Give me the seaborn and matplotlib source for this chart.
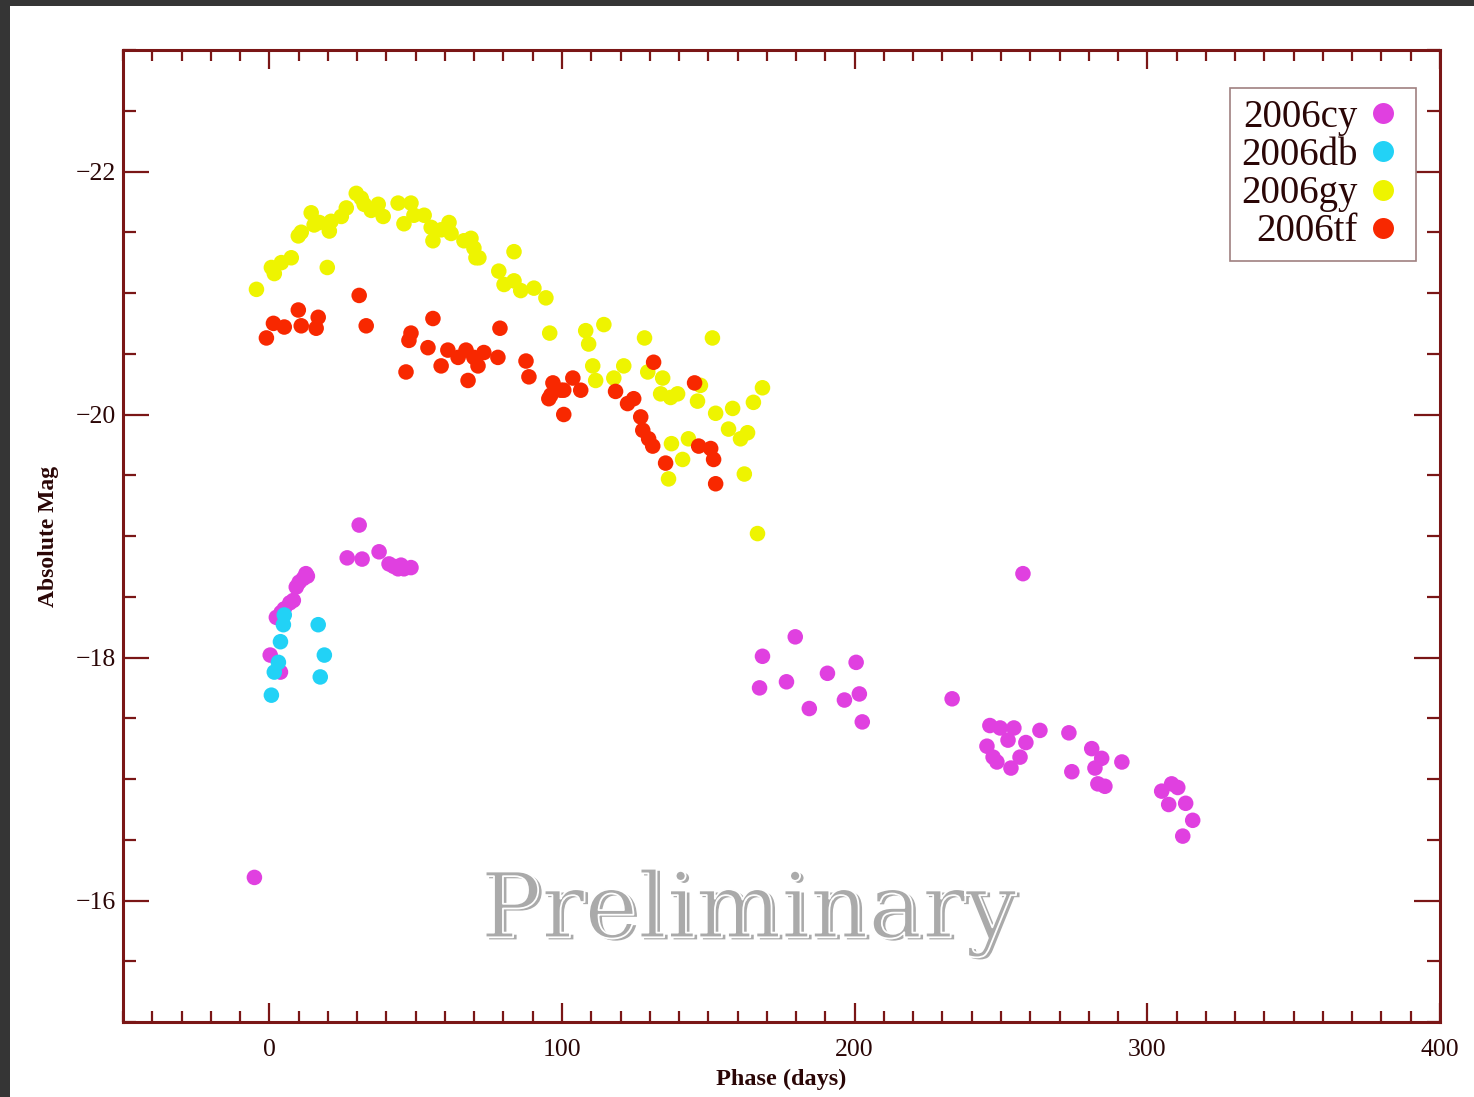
import numpy as np
import pandas as pd
import matplotlib
matplotlib.use("Agg")
import matplotlib.pyplot as plt
import matplotlib.patheffects as pe
from matplotlib.patches import Rectangle
from matplotlib.ticker import MultipleLocator, FuncFormatter
import seaborn as sns

# Light curves: phase (days) and absolute magnitude per supernova
cy_phase = [-5.1, 0.3, 3.8, 2.4, 4.0, 5.1, 7.0, 8.2, 9.2, 10.2, 11.6, 12.5, 13.0,
            26.6, 30.7, 31.7, 37.5, 40.9, 42.5, 44.0, 45.0, 46.0, 48.4,
            167.5, 168.5, 176.7, 179.7, 184.5, 190.7, 196.5, 200.5, 201.6, 202.6,
            233.3, 246.2, 249.7, 254.4, 252.4, 258.5, 263.3, 245.2, 247.3, 248.6,
            253.4, 256.5, 257.5, 273.2, 274.2, 281.0, 284.4, 282.1, 291.3, 283.1,
            285.5, 304.9, 308.3, 310.4, 307.3, 313.1, 315.5, 312.1]
cy_mag = [-16.19, -18.02, -17.88, -18.33, -18.37, -18.40, -18.45, -18.47, -18.58, -18.62, -18.65, -18.69, -18.67,
          -18.82, -19.09, -18.81, -18.87, -18.77, -18.75, -18.73, -18.76, -18.73, -18.74,
          -17.75, -18.01, -17.80, -18.17, -17.58, -17.87, -17.65, -17.96, -17.70, -17.47,
          -17.66, -17.44, -17.42, -17.42, -17.32, -17.30, -17.40, -17.27, -17.18, -17.14,
          -17.09, -17.18, -18.69, -17.38, -17.06, -17.25, -17.17, -17.09, -17.14, -16.96,
          -16.94, -16.90, -16.96, -16.93, -16.79, -16.80, -16.66, -16.53]

db_phase = [0.7, 1.7, 3.1, 3.8, 4.8, 5.1, 16.7, 18.8, 17.4]
db_mag = [-17.69, -17.88, -17.96, -18.13, -18.27, -18.35, -18.27, -18.02, -17.84]

gy_phase = [-4.4, 1.7, 0.7, 4.1, 7.5, 9.9, 10.9, 14.3, 15.3, 17.1, 20.5, 21.1, 19.8,
            24.6, 26.3, 29.7, 31.4, 32.4, 34.8, 37.2, 38.9, 44.0, 46.0, 48.4, 49.4,
            52.9, 55.3, 55.9, 58.7, 61.4, 62.1, 66.5, 68.9, 69.9, 70.6, 71.6, 83.6,
            78.4, 80.2, 83.6, 85.9, 90.4, 94.5, 95.8, 108.1, 109.1, 114.3, 128.2,
            151.4, 110.5, 111.5, 117.7, 121.1, 129.3, 134.4, 133.7, 139.5, 137.1,
            147.3, 146.3, 152.5, 158.3, 165.4, 168.5, 156.9, 163.4, 161.0, 143.2,
            137.4, 141.2, 136.4, 162.3, 166.8]
gy_mag = [-21.03, -21.16, -21.21, -21.25, -21.29, -21.47, -21.50, -21.66, -21.56, -21.58, -21.51, -21.59, -21.21,
          -21.63, -21.70, -21.82, -21.78, -21.73, -21.68, -21.73, -21.63, -21.74, -21.57, -21.74, -21.64,
          -21.64, -21.54, -21.43, -21.52, -21.58, -21.49, -21.43, -21.45, -21.37, -21.29, -21.29, -21.34,
          -21.18, -21.07, -21.10, -21.02, -21.04, -20.96, -20.67, -20.69, -20.58, -20.74, -20.63,
          -20.63, -20.40, -20.28, -20.30, -20.40, -20.35, -20.30, -20.17, -20.17, -20.14,
          -20.24, -20.11, -20.01, -20.05, -20.10, -20.22, -19.88, -19.85, -19.80, -19.80,
          -19.76, -19.63, -19.47, -19.51, -19.02]

tf_phase = [-1.0, 1.4, 5.1, 9.9, 10.9, 16.7, 16.0, 30.7, 33.1, 48.4, 47.7, 55.9, 54.2,
            46.7, 61.0, 58.7, 64.5, 67.2, 67.9, 69.9, 73.3, 71.3, 78.1, 78.8, 87.7,
            88.7, 96.9, 99.6, 95.5, 96.2, 100.6, 103.7, 106.4, 100.6, 118.3, 122.4,
            124.5, 126.9, 127.6, 129.6, 131.0, 131.3, 135.4, 145.3, 146.7, 150.8,
            151.8, 152.5]
tf_mag = [-20.63, -20.75, -20.72, -20.86, -20.73, -20.80, -20.71, -20.98, -20.73, -20.67, -20.61, -20.79, -20.55,
          -20.35, -20.53, -20.40, -20.47, -20.53, -20.28, -20.47, -20.51, -20.40, -20.47, -20.71, -20.44,
          -20.31, -20.26, -20.20, -20.13, -20.16, -20.20, -20.30, -20.20, -20.00, -20.19, -20.09,
          -20.13, -19.98, -19.87, -19.80, -19.74, -20.43, -19.60, -20.26, -19.74, -19.72,
          -19.63, -19.43]

names = ["2006cy", "2006db", "2006gy", "2006tf"]
colors = ["#e040e0", "#22d2f6", "#eef400", "#f82800"]

frames = []
for name, ph, mg in zip(names,
                        [cy_phase, db_phase, gy_phase, tf_phase],
                        [cy_mag, db_mag, gy_mag, tf_mag]):
    frames.append(pd.DataFrame({"phase": ph, "mag": mg, "sn": name}))
df = pd.concat(frames, ignore_index=True)

sns.set_style("white")
plt.rcParams["font.family"] = ["Liberation Serif", "DejaVu Serif"]

axis_col = "#7a1616"
text_col = "#2a0606"

fig = plt.figure(figsize=(14.74, 10.97), dpi=100, facecolor="#353535")
fig.patches.append(Rectangle((10 / 1474, 0), 1, 1 - 6 / 1097, transform=fig.transFigure,
                             facecolor="white", edgecolor="none", zorder=-10))
ax = fig.add_axes([123 / 1474, 1 - 1022 / 1097, (1440 - 123) / 1474, (1022 - 50) / 1097])
ax.set_zorder(5)
ax.set_facecolor("white")

sns.scatterplot(data=df, x="phase", y="mag", hue="sn", hue_order=names,
                palette=colors, s=125, linewidth=0, edgecolor="none", ax=ax)

ax.set_xlim(-50, 400)
ax.set_ylim(-15, -23)
ax.xaxis.set_major_locator(MultipleLocator(100))
ax.xaxis.set_minor_locator(MultipleLocator(10))
ax.yaxis.set_major_locator(MultipleLocator(2))
ax.yaxis.set_minor_locator(MultipleLocator(0.5))
ax.xaxis.set_major_formatter(FuncFormatter(lambda v, p: f"{v:.0f}"))
ax.yaxis.set_major_formatter(FuncFormatter(lambda v, p: f"\u2212{abs(v):.0f}"))

for sp in ax.spines.values():
    sp.set_color(axis_col)
    sp.set_linewidth(2.2)

ax.tick_params(axis="x", which="major", direction="in", length=14, width=1.6,
               color=axis_col, top=True, bottom=True, labelsize=18.5, labelcolor=text_col, pad=12)
ax.tick_params(axis="x", which="minor", direction="in", length=8, width=1.6,
               color=axis_col, top=True, bottom=True)
ax.tick_params(axis="y", which="major", direction="in", length=19, width=1.6,
               color=axis_col, left=True, right=True, labelsize=18.5, labelcolor=text_col, pad=5)
ax.tick_params(axis="y", which="minor", direction="in", length=9.5, width=1.6,
               color=axis_col, left=True, right=True)

ax.set_xlabel("Phase (days)", fontsize=17.5, fontweight="bold", color=text_col, labelpad=6)
ax.set_ylabel("Absolute Mag", fontsize=17, fontweight="bold", color=text_col, labelpad=12)

sns.move_legend(ax, "upper right", bbox_to_anchor=(0.982, 0.961), borderaxespad=0,
                title=None, markerfirst=False, fontsize=28, markerscale=1.35,
                frameon=True, fancybox=False, shadow=False, framealpha=1,
                edgecolor="#a08080", labelspacing=0.03, handlelength=1.15,
                handletextpad=0.08, borderpad=0.28, labelcolor=text_col)
ax.get_legend().get_frame().set_linewidth(1.2)

# Watermark with a light embossed outline
ax.text(0.4776, 0.085, "Preliminary", transform=ax.transAxes, ha="center", va="baseline",
        fontsize=65, family="DejaVu Serif", color="#aaaaaa", zorder=6,
        path_effects=[pe.Normal(),
                      pe.Stroke(offset=(-2.5, 1.5), linewidth=1.3, foreground="white")])

fig.savefig("out.png", dpi=100, facecolor=fig.get_facecolor())
